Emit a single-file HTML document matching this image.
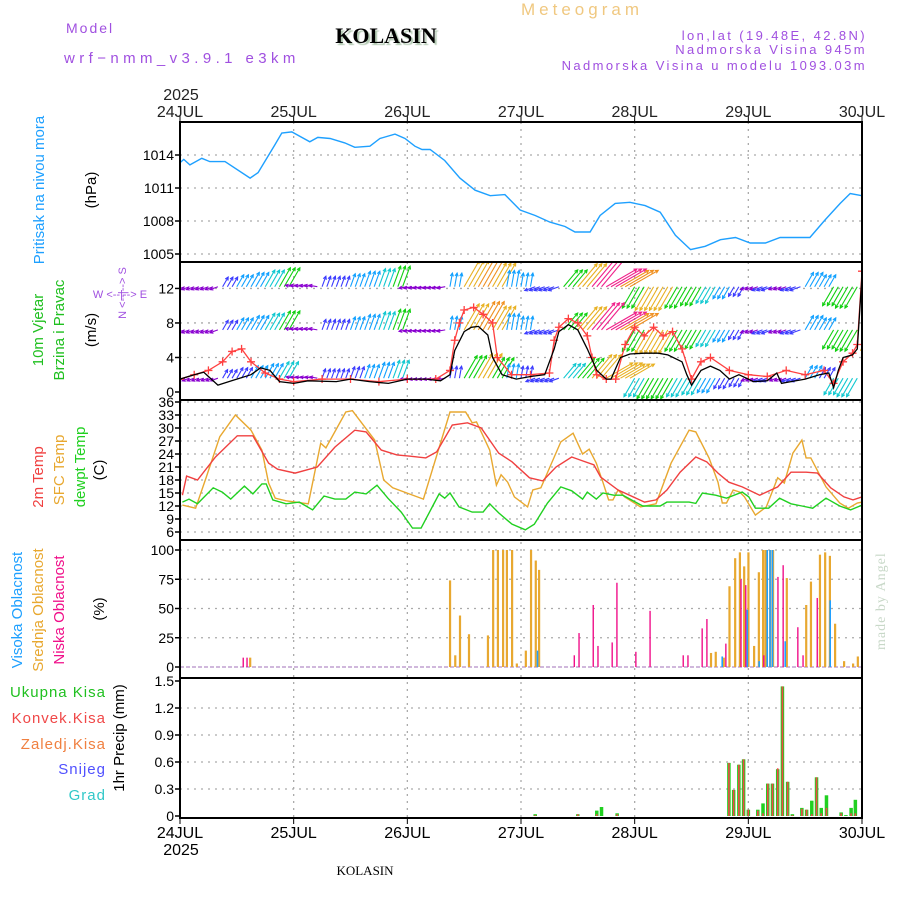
<!DOCTYPE html>
<html><head><meta charset="utf-8">
<style>
html,body{margin:0;padding:0;background:#fff;}
svg{display:block;}
.t{font-family:"Liberation Sans",sans-serif;}
</style></head>
<body>
<svg id="chart" width="900" height="900" viewBox="0 0 900 900" xmlns="http://www.w3.org/2000/svg">
<rect width="900" height="900" fill="#fff"/>
<g class="t">
<text x="66" y="33" font-size="14" fill="#a050e0" letter-spacing="2" font-family="Liberation Sans">Model</text>
<text x="64" y="63" font-size="15" fill="#a050e0" letter-spacing="4.4" font-family="Liberation Sans">wrf−nmm_v3.9.1 e3km</text>
<text x="386" y="43" font-size="22" font-weight="bold" text-anchor="middle" fill="#000" font-family="Liberation Serif" style="text-shadow:2px 2px 1px #b0c8b0">KOLASIN</text>
<text x="521" y="15" font-size="17" fill="#f0c880" letter-spacing="4" font-family="Liberation Sans">Meteogram</text>
<text x="867" y="40" font-size="13" fill="#a050e0" text-anchor="end" letter-spacing="2.4" font-family="Liberation Sans">lon,lat (19.48E, 42.8N)</text>
<text x="867" y="54" font-size="13" fill="#a050e0" text-anchor="end" letter-spacing="2.4" font-family="Liberation Sans">Nadmorska Visina 945m</text>
<text x="867" y="70" font-size="13" fill="#a050e0" text-anchor="end" letter-spacing="2.4" font-family="Liberation Sans">Nadmorska Visina u modelu 1093.03m</text>
<text x="365" y="875" font-size="13" text-anchor="middle" fill="#000" font-family="Liberation Serif">KOLASIN</text>
<text transform="translate(885,650) rotate(-90)" font-size="14" fill="#c8d8c8" letter-spacing="1" font-family="Liberation Serif">made by Angel</text>
</g>
<g id="layer"></g>
</svg>
<script>
// ---- data ----
const dayLabels=["24JUL","25JUL","26JUL","27JUL","28JUL","29JUL","30JUL"];
const presTicks=[1005,1008,1011,1014];
const windTicks=[0,4,8,12];
const tempTicks=[6,9,12,15,18,21,24,27,30,33,36];
const cloudTicks=[0,25,50,75,100];
const precTicks=[0,0.3,0.6,0.9,1.2,1.5];
const precTickLabels=["0","0.3","0.6","0.9","1.2","1.5"];

const presH=[0,0.8,2.1,4.6,6.3,9.5,14.8,16.5,20,21.5,23.6,27.4,29.1,31.7,34.8,36.9,40.1,42.2,45.4,47.5,49.6,51.1,52.8,55.9,59.1,62.3,65.5,68.6,71.8,75,78.1,81.3,83.4,86.6,88.7,91.9,95,98.2,101.4,104.6,107.8,110.9,114.1,117.3,120.4,123.6,126.7,129.9,133,136.2,139.4,141.5,144];
const presV=[1013.3,1013.6,1013.1,1013.7,1013.4,1013.4,1011.9,1012.4,1014.9,1016.0,1016.1,1015.2,1015.6,1015.5,1015.1,1014.7,1014.8,1015.5,1015.9,1015.5,1014.8,1014.5,1014.5,1013.5,1011.9,1010.8,1010.3,1010.4,1009.0,1008.5,1007.9,1007.5,1007.0,1007.0,1008.5,1009.6,1009.7,1009.4,1008.8,1006.7,1005.4,1005.7,1006.3,1006.5,1006.0,1006.0,1006.5,1006.5,1006.5,1008.1,1009.6,1010.5,1010.3];

const t2H=[0.5,1.4,3.7,7.5,12.1,15.4,18.7,20.6,24.3,29,32.7,36.9,39.3,42.5,45.8,48.6,51.9,54.2,57.5,60.7,63.6,67.3,70.1,73.8,76.6,79.4,82.7,85,87.4,88.8,92.5,96.3,98.1,100.5,102.8,105.6,108.9,111.2,113.6,115.9,118.7,122.4,126.2,129,132.2,134.6,137.4,140.2,142.1,144];
const t2V=[14.5,18.9,18.0,23.3,28.2,28.2,21.9,20.5,19.6,21.0,25.6,29.5,29.1,24.9,23.8,23.5,23.1,24.5,30.7,31.2,30.0,24.2,22.2,18.5,17.8,21.0,23.3,22.4,21.5,18.7,15.7,13.8,12.9,13.4,15.7,19.8,23.3,22.2,19.6,17.5,16.4,14.5,16.4,19.8,19.8,19.6,16.2,14.1,13.4,14.1];

const sfcH=[0.5,3.3,5.6,8.4,11.7,15,17.3,18.7,20.1,22.4,27.1,29.7,30.8,35,36.4,41.1,43,44.9,51.4,57,60.3,61.7,62.6,65.4,66.8,67.8,69.2,70.6,73.4,74.5,76.2,80.4,83,85,86.4,87.9,89.3,90.5,91.4,92.5,93.9,97.2,100.5,103.7,107.5,108.9,111.7,113.6,114.5,115.4,116.8,118.2,119.2,121.5,123.8,126.2,127.6,129.4,131.3,132.2,133.2,136.4,139.3,141.1,143,144];
const sfcV=[12.2,11.5,18.8,28.0,33.0,29.5,24.9,17.3,13.8,13.2,12.5,26.5,25.4,33.7,34.0,27.2,18.0,16.2,13.6,33.7,33.7,31.2,31.4,24.9,16.8,19.2,17.5,14.1,11.8,15.7,16.2,26.8,28.8,24.0,25.1,21.9,17.5,13.4,13.4,15.7,14.1,11.8,12.5,21.9,29.5,29.1,23.1,17.5,12.7,12.7,15.7,15.2,14.1,9.9,11.8,18.5,17.3,24.2,27.2,23.1,23.1,16.4,12.7,11.5,12.7,12.9];

const dewH=[0.5,1.9,3.7,7,8.9,10.7,13.6,15.4,17.3,18.2,19.6,22.4,25.2,28,30.4,32.7,35,36.9,39.3,41.6,43.9,46.7,49.1,50.9,53.7,54.7,55.9,57,58.9,61.7,64,65.4,67.3,70.1,72.9,74.8,77.6,80.4,82.7,85,86,87.9,89.3,91.6,93.5,95.3,97.7,101.4,102.8,105.6,107.5,108.9,110.3,113.1,115.4,118.7,120.1,121.5,124.3,126.6,129,131.3,133.6,136.4,139.3,141.6,144];
const dewV=[12.9,13.6,12.5,16.2,15.2,13.6,16.6,14.8,17.1,17.1,13.4,12.5,12.9,11.1,14.3,13.6,13.6,15.2,14.8,16.8,13.8,10.6,6.9,6.9,12.7,14.8,13.8,15.0,11.8,10.6,10.6,12.5,10.4,7.8,6.5,7.8,12.7,16.4,15.5,13.6,15.2,13.6,15.0,14.5,14.5,13.4,12.0,12.0,12.9,12.9,12.9,12.6,15.0,14.5,13.8,15.2,14.1,11.5,11.5,13.8,12.5,12.0,11.5,13.8,12.0,11.1,12.2];

const speedH=[0,3,5,6,8,12,15,17,19,21,24,27,33,36,40,44,48,52,55,57,58,60,61.5,63,65,66,68,71,74,77,79,80,82,84,86,88,90,91,93,95,98,101,103,106,107,108,110,112,114,116,118,120,121,124,126,127,129,132,135,137,138,139,140,142,143,144];
const speedV=[1.5,2,2.3,1.8,0.8,1.5,2,2.8,2.5,1.2,1,1.3,1.2,1.5,1.2,1,1.5,1.5,1.3,2,4.8,7,7.5,7.6,6.6,4,2,1.5,1.8,2,5,7,7.8,7.2,5,2.5,1.5,1.5,4,4.4,4.5,4.5,4.3,3.5,2,0.8,2.5,3,2.5,1.5,2,1.5,1.2,1.3,2.2,1,1.2,1.5,2,2.2,0.5,2.5,4,4.3,5,13.5];
const gustH=[0,3,6,9,11,13,15,18,21,24,30,36,42,48,54,57,58,59,60,62,64,66,67,70,74,78,79,80,82,84,86,87,88,90,92,94,96,98,100,102,104,106,108,110,112,116,120,124,128,132,136,138,140,142,143,144];
const gustV=[1.5,2,2.5,3.5,4.7,5,3.5,2.2,1.5,1.2,1.5,1.5,1.2,1.5,1.5,2.5,6,8,9.5,9.8,9,8,4,2,2,2.2,6,7.5,8.5,8,6.5,4,2,1.5,1.5,5.5,7.5,6.5,7.5,6.5,7,5,1.5,3.5,4,2.5,2,1.8,2.5,2,2.5,1,3.5,4.5,5.5,14];

const windDir=[200,200,200,60,60,60,60,60,170,170,70,70,70,70,70,70,190,190,190,80,60,60,60,80,80,200,200,50,50,50,30,30,240,240,240,240,240,240,240,240,200,200,200,200,60,60,240,240,90];
const windSpd=[2,2,2,3,4,5,6,7,2,2,3,3,4,5,6,7,2,2,2,4,10,11,9,5,4,3,3,7,10,12,12,11,8,9,9,8,7,6,4,3,2,3,2,3,5,4,7,8,12];
const windRows=[12.2,7.2,1.6];
const windRowScale=[1,1,0.85];

const cloudMidH=[14.8,57,58.1,59.1,61,65,66.1,67.1,68.2,69,70.1,71.1,73,74.1,75.1,75.8,112.1,113.1,114.8,116,117.2,118.2,119.1,120,121.2,122.2,123.1,123.6,124.6,125.2,128.1,132.2,133.2,135.1,136.2,137.2,138.3,140.2,142.1,143.1];
const cloudMidV=[8,74,10,44,28,27,100,100,100,100,100,3,14,100,91,83,12,13,8,69,93,98,86,98,18,81,100,100,100,100,76,53,73,96,98,95,37,5,3,9];
const cloudLowH=[13.1,13.9,83,84,87,88,91,92,96,99,106,107,110,111,115,118.2,119.2,123,126,127.1,130.2,131.3,134.3];
const cloudLowV=[8,8,10,29,53,18,21,72,13,48,10,10,33,41,20,75,70,10,77,87,34,10,59];
const cloudHighH=[75,114,119.3,121.8,123.5,124.1,124.6,127.3,136.8];
const cloudHighV=[14,9,49,5,100,100,100,22,57];

const rainH=[75,84,88,89,92.3,115.9,116.9,118,119,120,122,123.1,124.1,125.1,126.2,127.2,128.3,129.3,131.3,132.3,133.4,134.4,135.4,136.5,139.6,140.6,141.7,142.6];
const rainV=[0.02,0.02,0.06,0.1,0.03,0.59,0.29,0.57,0.63,0.07,0.07,0.14,0.36,0.36,0.52,1.44,0.38,0.02,0.09,0.07,0.17,0.43,0.09,0.23,0.04,0.01,0.09,0.18];
const convV=[0.01,0.02,0.02,0.0,0.02,0.59,0.29,0.57,0.63,0.07,0.06,0.03,0.36,0.36,0.53,1.44,0.38,0.01,0.08,0.07,0.02,0.43,0.03,0.09,0.03,0.0,0.03,0.03];

// ---- scales ----
const X0=180,X1=862;
const xs=h=>X0+h*(X1-X0)/144;
const yP=v=>155+(1014-v)*11;
const yW=v=>392-v*8.63;
const yT=v=>402+(36-v)*13/3;
const yC=v=>667-v*1.17;
const yR=v=>816-v*90;
const panels=[[122,262,'pressure'],[262,400,'wind'],[400,540,'temperature'],[540,678,'cloud'],[678,818,'precip']];

const NS='http://www.w3.org/2000/svg';
const layer=document.getElementById('layer');
function mk(tag,attrs,parent){const e=document.createElementNS(NS,tag);for(const k in attrs)e.setAttribute(k,attrs[k]);(parent||layer).appendChild(e);return e;}

const defs=mk('defs',{});
panels.forEach((p,i)=>{const c=mk('clipPath',{id:'clip'+i},defs);mk('rect',{x:X0,y:p[0],width:X1-X0,height:p[1]-p[0]},c);});

const grid=mk('g',{});


for(let d=1;d<6;d++){const x=xs(d*24);mk('line',{x1:x,y1:122,x2:x,y2:818,stroke:'#aaa','stroke-width':1.3,'stroke-dasharray':'2,5'},grid);}
function hgrid(vals,f){vals.forEach(v=>{mk('line',{x1:X0,y1:f(v),x2:X1,y2:f(v),stroke:'#aaa','stroke-width':1.3,'stroke-dasharray':'2,5'},grid);});}
hgrid(presTicks,yP);hgrid([4,8,12],yW);hgrid(tempTicks,yT);hgrid([25,50,75,100],yC);hgrid([0.3,0.6,0.9,1.2],yR);

function yticks(vals,labels,f,name){const g=mk('g',{});


vals.forEach((v,i)=>{const y=f(v);mk('line',{x1:X0-5,y1:y,x2:X0,y2:y,stroke:'#000','stroke-width':1.5},g);
const t=mk('text',{x:X0-6,y:y+5,'font-size':14,'text-anchor':'end','font-family':'Liberation Sans',fill:'#000'},g);t.textContent=labels[i];});}
yticks(presTicks,presTicks.map(String),yP,'pressure-y-axis');
yticks(windTicks,windTicks.map(String),yW,'wind-y-axis');
yticks(tempTicks,tempTicks.map(String),yT,'temperature-y-axis');
yticks(cloudTicks,cloudTicks.map(String),yC,'cloud-y-axis');
yticks(precTicks,precTickLabels,yR,'precip-y-axis');

const xg=mk('g',{});


dayLabels.forEach((s,i)=>{const x=xs(i*24);
mk('line',{x1:x,y1:116,x2:x,y2:122,stroke:'#000'},xg);
mk('line',{x1:x,y1:818,x2:x,y2:824,stroke:'#000'},xg);
let t=mk('text',{x:x,y:117,'font-size':16,'text-anchor':'middle','font-family':'Liberation Sans',fill:'#222'},xg);t.textContent=s;
t=mk('text',{x:x,y:838,'font-size':16,'text-anchor':'middle','font-family':'Liberation Sans',fill:'#000'},xg);t.textContent=s;});
let yr=mk('text',{x:181,y:100,'font-size':16,'text-anchor':'middle','font-family':'Liberation Sans',fill:'#222'},xg);yr.textContent='2025';
yr=mk('text',{x:181,y:855,'font-size':16,'text-anchor':'middle','font-family':'Liberation Sans',fill:'#000'},xg);yr.textContent='2025';

function line(H,V,fy,color,clip,name,w){const d=H.map((h,i)=>(i?'L':'M')+xs(h).toFixed(1)+','+fy(V[i]).toFixed(1)).join('');
const p=mk('path',{d:d,fill:'none',stroke:color,'stroke-width':w||1.3,'clip-path':'url(#clip'+clip+')'});

return p;}

line(presH,presV,yP,'#1ea0ff',0,'pressure-line',1.4);

const wg=mk('g',{'clip-path':'url(#clip1)'});


function wcol(s){return s<2.5?'#8a00d0':s<4?'#3a3aff':s<5.5?'#10a0ff':s<7?'#10c8d0':s<9?'#10d010':s<10.5?'#e8b020':s<11.5?'#f09020':'#f0208a';}
windRows.forEach((rv,r)=>{for(let h=0;h<=144;h+=1){const i=Math.min(48,Math.floor(h/3));const s=windSpd[i]*windRowScale[r];const a=windDir[i]*Math.PI/180;const L=3+s*2.7;
const x=xs(h),y=yW(rv);const x2=x+Math.cos(a)*L,y2=y-Math.sin(a)*L;const c=wcol(s);
mk('line',{x1:x,y1:y,x2:x2,y2:y2,stroke:c,'stroke-width':1.1},wg);
const b1=a+Math.PI*0.85,b2=a-Math.PI*0.85;
mk('path',{d:`M${x2+Math.cos(b1)*3.5},${y2-Math.sin(b1)*3.5}L${x2},${y2}L${x2+Math.cos(b2)*3.5},${y2-Math.sin(b2)*3.5}`,fill:'none',stroke:c,'stroke-width':1.1},wg);}});

line(gustH,gustV,yW,'#ff4040',1,'wind-gust-line',1.3);
const gm=mk('g',{'clip-path':'url(#clip1)'});


gustH.forEach((h,i)=>{const x=xs(h),y=yW(gustV[i]);mk('path',{d:`M${x-4},${y}h8M${x},${y-4}v8`,stroke:'#ff4040','stroke-width':1.3},gm);});
line(speedH,speedV,yW,'#000',1,'wind-speed-line',1.3);

line(sfcH,sfcV,yT,'#e8a830',2,'sfc-temp-line',1.4);
line(t2H,t2V,yT,'#f04040',2,'2m-temp-line',1.4);
line(dewH,dewV,yT,'#20d020',2,'dewpoint-line',1.4);

function bars(H,V,fy,color,w,off,name,clip,base){const g=mk('g',{'clip-path':'url(#clip'+clip+')'});


H.forEach((h,i)=>{const y=fy(V[i]);const y0=fy(base);mk('rect',{x:xs(h)+off,y:Math.min(y,y0),width:w,height:Math.abs(y0-y),fill:color},g);});}
mk('line',{x1:X0,y1:yC(0),x2:X1,y2:yC(0),stroke:'#c0a0d0','stroke-width':1.5,'stroke-dasharray':'4,2'});
bars(cloudMidH,cloudMidV,yC,'#e8a830',2.2,-1,'mid-cloud-bars',3,0);
bars(cloudLowH,cloudLowV,yC,'#f0108a',1.4,0.5,'low-cloud-bars',3,0);
bars(cloudHighH,cloudHighV,yC,'#20a0ff',1.6,1.5,'high-cloud-bars',3,0);

bars(rainH,rainV,yR,'#20d020',3.5,-1.75,'total-rain-bars',4,0);
bars(rainH,convV,yR,'#f04848',1.6,-0.8,'convective-rain-bars',4,0);

const bg=mk('g',{});


panels.forEach(p=>{mk('rect',{x:X0,y:p[0],width:X1-X0,height:p[1]-p[0],fill:'none',stroke:'#000','stroke-width':2},bg);});

function vlab(x,y,txt,color,size,name){const t=mk('text',{transform:`translate(${x},${y}) rotate(-90)`,'font-size':size||15,'text-anchor':'middle','font-family':'Liberation Sans',fill:color});t.textContent=txt;

}
vlab(44,190,'Pritisak na nivou mora','#1ea0ff',15,'pressure-title');
vlab(96,190,'(hPa)','#000',15,'pressure-unit');
vlab(43,330,'10m Vjetar','#20c020',15,'wind-title-1');
vlab(64,330,'Brzina i Pravac','#20c020',15,'wind-title-2');
vlab(96,330,'(m/s)','#000',15,'wind-unit');
vlab(126,293,'N <--|--> S','#a050e0',11,'compass-ns');
const we=mk('text',{x:120,y:298,'font-size':11,'text-anchor':'middle','font-family':'Liberation Sans',fill:'#a050e0'});we.textContent='W   <--|-->   E';


vlab(43,477,'2m Temp','#f04040',15,'temp-title-2m');
vlab(64,470,'SFC Temp','#e8a830',15,'temp-title-sfc');
vlab(85,467,'dewpt Temp','#20d020',15,'temp-title-dewpt');
vlab(104,470,'(C)','#000',15,'temp-unit');
vlab(22,610,'Visoka Oblacnost','#1ea0ff',15,'cloud-title-high');
vlab(43,610,'Srednja Oblacnost','#e8a830',15,'cloud-title-mid');
vlab(64,610,'Niska Oblacnost','#f0108a',15,'cloud-title-low');
vlab(104,609,'(%)','#000',15,'cloud-unit');
vlab(124,738,'1hr Precip (mm)','#000',15,'precip-title');
const pl=[['Ukupna  Kisa','#20c020',697],['Konvek.Kisa','#f04848',723],['Zaledj.Kisa','#f08040',749],['Snijeg','#5050ff',774],['Grad','#30c8c8',800]];
const plnames=['legend-total-rain','legend-convective-rain','legend-freezing-rain','legend-snow','legend-hail'];
pl.forEach((p,i)=>{const t=mk('text',{x:106,y:p[2],'font-size':15,'text-anchor':'end','letter-spacing':'1','font-family':'Liberation Sans',fill:p[1]});t.textContent=p[0];

});
</script>
</body></html>
